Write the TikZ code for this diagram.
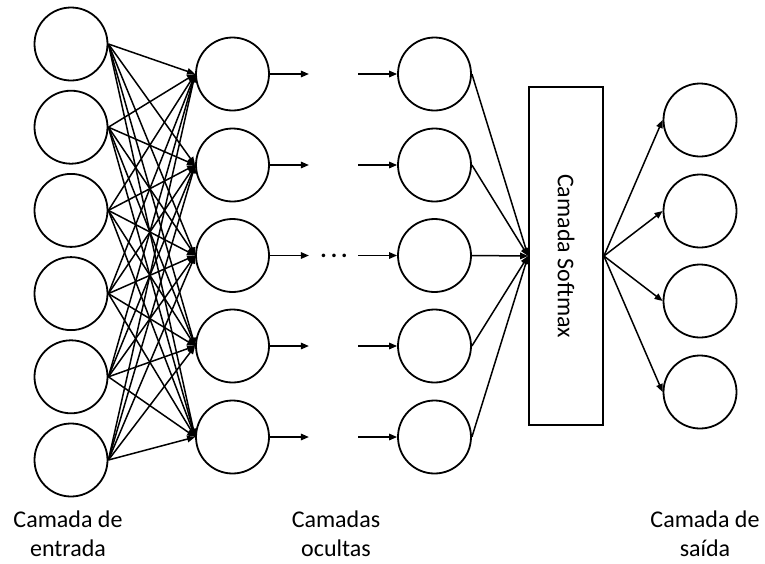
\documentclass[tikz,border=0pt]{standalone}
\usepackage{fontspec}
\setmainfont{Carlito}
\usetikzlibrary{arrows.meta}
\begin{document}
\begin{tikzpicture}[x=1pt,y=-1pt,
  neuron/.style={circle,draw,line width=1.8pt,minimum size=73pt,inner sep=0pt},
  conn/.style={line width=1.5pt,-{Triangle[length=8pt,width=6.5pt]}},
  bigfont/.style={font=\fontsize{24}{29}\selectfont},
  lbl/.style={bigfont,align=center,anchor=north,inner sep=0pt}]
\useasboundingbox[fill=white] (0,0) rectangle (765,563);

% input layer
\foreach \k/\y in {1/44,2/127.2,3/210.4,4/293.6,5/376.8,6/460}
  \node[neuron] (i\k) at (71,\y) {};
% hidden layers
\foreach \k/\y in {1/74,2/165,3/255.5,4/346,5/437}{
  \node[neuron] (a\k) at (232.5,\y) {};
  \node[neuron] (b\k) at (434.5,\y) {};
  \path (a\k.east) ++(39,0) coordinate (p\k);
  \path (b\k.west) ++(-39,0) coordinate (q\k);
  \draw[conn] (a\k.east) -- (p\k);
  \draw[conn] (q\k) -- (b\k.west);
}
% output layer
\foreach \k/\y in {1/120,2/211,3/301,4/392}
  \node[neuron] (o\k) at (700,\y) {};

% full connections input -> hidden 1
\foreach \k in {1,...,6}{
  \foreach \j in {1,...,5}{
    \draw[conn] (i\k.east) -- (a\j.west);
  }
}

% ellipsis
\node[bigfont,anchor=base,inner sep=0pt] (ell) at (334,257.5) {\bfseries .\hspace{4pt}.\hspace{4pt}.};

% softmax box
\node[draw,line width=1.8pt,rotate=-90,minimum width=338pt,minimum height=74pt,inner sep=0pt,bigfont] (sm) at (566,256) {Camada Softmax};

\foreach \j in {1,...,5}{
  \draw[conn] (b\j.east) -- (sm.south);
}
\foreach \j in {1,...,4}{
  \draw[conn] (sm.north) -- (o\j.west);
}

% labels
\node[lbl] (l1) at (68,511) {Camada de\\entrada};
\node[lbl] (l2) at (336,511) {Camadas\\ocultas};
\node[lbl] (l3) at (705,511) {Camada de\\saída};
\end{tikzpicture}
\end{document}
